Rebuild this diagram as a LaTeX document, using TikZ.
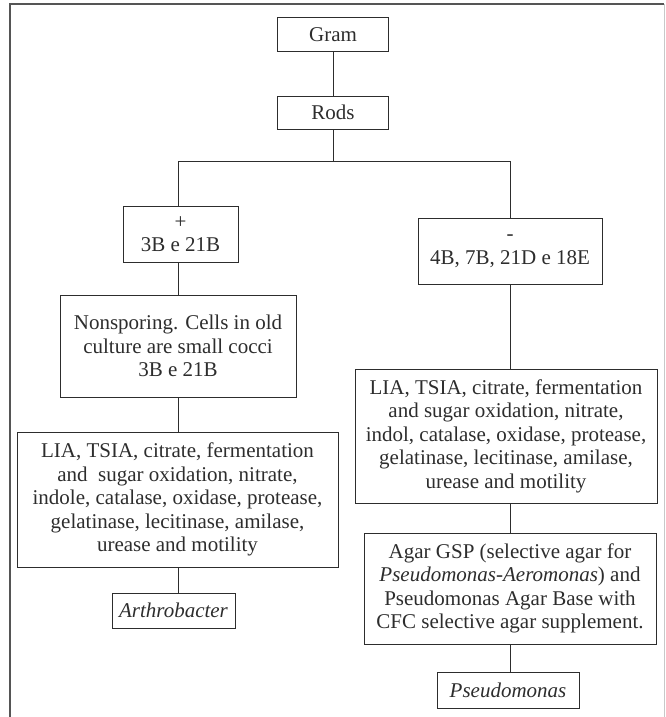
\documentclass[tikz,border=0pt]{standalone}
\usepackage{fontspec}
\setmainfont{Liberation Serif}
\usepackage{tikz}
\definecolor{framegray}{RGB}{85, 85, 85}
\definecolor{edgegray}{RGB}{200, 200, 200}
\definecolor{inkdark}{RGB}{45, 45, 45}
\tikzstyle{box}=[shape=rectangle, draw=inkdark, line width=1pt, align=center, text=inkdark, inner sep=2pt]
\tikzstyle{link}=[line width=1pt, color=inkdark]

\begin{document}
\begin{tikzpicture}[x=1pt, y=-1pt, font=\fontsize{21}{23.5}\selectfont]
    \useasboundingbox (0,0) rectangle (665,717);
    % Frame
    \draw[line width=1.3pt, color=framegray] (10,717) -- (10,4) -- (664,4);
    \draw[line width=1pt, color=edgegray] (664,4) -- (664,717);

    % Top nodes
    \node[box, minimum width=111pt, minimum height=34pt] (gram) at (333,35) {Gram};
    \node[box, minimum width=111pt, minimum height=33pt] (rods) at (333,112.5) {Rods};
    \coordinate (split) at (333,161);
    \coordinate (colleft) at (178,161);

    % Positive branch
    \node[box, minimum width=115pt, minimum height=56pt] (pos) at (180.5,234) {+\\3B e 21B};
    \node[box, minimum width=236pt, minimum height=102pt] (nonsp) at (178,346) {Nonsporing. Cells in old\\culture are small cocci\\3B e 21B};
    \node[box, minimum width=321pt, minimum height=135pt] (testsl) at (177.5,499.5) {LIA, TSIA, citrate, fermentation\\and\ \ sugar oxidation, nitrate,\\indole, catalase, oxidase, protease,\\gelatinase, lecitinase, amilase,\\urease and motility};
    \node[box, minimum width=123pt, minimum height=35pt] (arthro) at (173.5,610.5) {\textit{Arthrobacter}};

    % Negative branch
    \node[box, minimum width=184pt, minimum height=66pt] (neg) at (510,251) {-\\4B, 7B, 21D e 18E};
    \node[box, minimum width=302pt, minimum height=134pt] (testsr) at (506,436) {LIA, TSIA, citrate, fermentation\\and sugar oxidation, nitrate,\\indol, catalase, oxidase, protease,\\gelatinase, lecitinase, amilase,\\urease and motility};
    \node[box, minimum width=292pt, minimum height=111pt] (agar) at (510,588.5) {Agar GSP (selective agar for\\\textit{Pseudomonas}-\textit{Aeromonas}) and\\Pseudomonas Agar Base with\\CFC selective agar supplement.};
    \node[box, minimum width=142pt, minimum height=36pt] (pseudo) at (508,690) {\textit{Pseudomonas}};

    % Tree lines
    \draw[link] (gram) -- (rods);
    \draw[link] (rods) -- (split);
    \draw[link] (colleft |- pos.north) -- (colleft) -- (neg.north |- split) -- (neg.north);
    \draw[link] (colleft |- pos.south) -- (colleft |- nonsp.north);
    \draw[link] (colleft |- nonsp.south) -- (colleft |- testsl.north);
    \draw[link] (colleft |- testsl.south) -- (colleft |- arthro.north);
    \draw[link] (neg.south) -- (neg.south |- testsr.north);
    \draw[link] (agar.north |- testsr.south) -- (agar.north);
    \draw[link] (agar.south) -- (agar.south |- pseudo.north);

\end{tikzpicture}
\end{document}
